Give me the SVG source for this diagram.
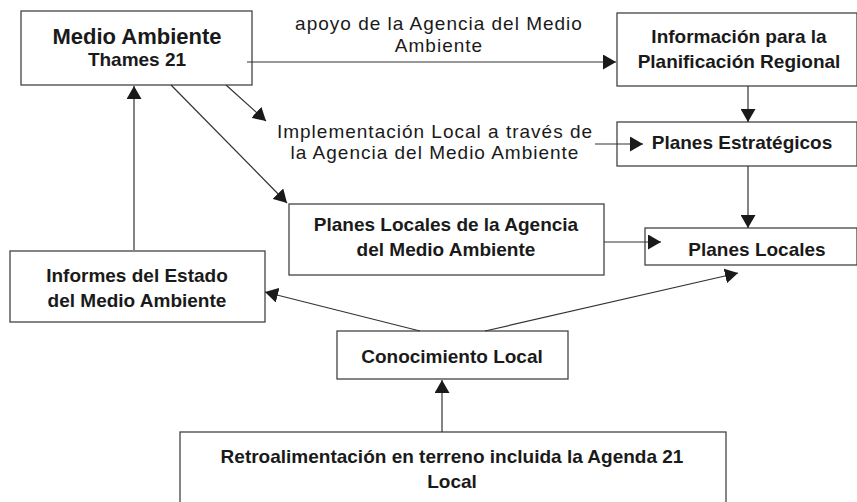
<svg xmlns="http://www.w3.org/2000/svg" width="857" height="502" viewBox="0 0 857 502">
<style>
  .box { fill: #ffffff; stroke: #444444; stroke-width: 1.3; }
  .b { font-family: "Liberation Sans", Arial, sans-serif; font-weight: bold; font-size: 19px; fill: #1a1a1a; text-anchor: middle; }
  .big { font-size: 22px; }
  .lbl { font-family: "Liberation Sans", Arial, sans-serif; font-size: 19px; fill: #1a1a1a; text-anchor: middle; letter-spacing: 1px; }
  .c { stroke: #333333; stroke-width: 1.2; fill: none; marker-end: url(#ah); }
</style>
<defs>
  <marker id="ah" markerUnits="userSpaceOnUse" markerWidth="14" markerHeight="15" refX="13" refY="7.5" orient="auto">
    <path d="M0,0 L13,7.5 L0,15 Z" fill="#1a1a1a"/>
  </marker>
</defs>
<rect width="857" height="502" fill="#ffffff"/>

<g id="label-apoyo">
  <text class="lbl" x="439" y="30">apoyo de la Agencia del Medio</text>
  <text class="lbl" x="439" y="52">Ambiente</text>
</g>
<g id="label-implementacion">
  <text class="lbl" x="435" y="138">Implementación Local a través de</text>
  <text class="lbl" x="435" y="159">la Agencia del Medio Ambiente</text>
</g>

<g id="medio-ambiente">
  <rect class="box" x="21" y="11" width="231" height="74"/>
  <text class="b big" x="137" y="44">Medio Ambiente</text>
  <text class="b" x="137" y="66">Thames 21</text>
</g>

<g id="informacion">
  <rect class="box" x="617" y="13" width="240" height="73"/>
  <text class="b" x="739" y="43">Información para la</text>
  <text class="b" x="739" y="68">Planificación Regional</text>
</g>

<g id="planes-estrategicos">
  <rect class="box" x="617" y="122" width="240" height="44"/>
  <text class="b" x="742" y="149">Planes Estratégicos</text>
</g>

<g id="planes-locales-agencia">
  <rect class="box" x="289" y="204" width="315" height="71"/>
  <text class="b" x="446" y="231">Planes Locales de la Agencia</text>
  <text class="b" x="446" y="256">del Medio Ambiente</text>
</g>

<g id="planes-locales">
  <rect class="box" x="645" y="228" width="212" height="37"/>
  <text class="b" x="757" y="256">Planes Locales</text>
</g>

<g id="informes">
  <rect class="box" x="10" y="251" width="255" height="71"/>
  <text class="b" x="137" y="282">Informes del Estado</text>
  <text class="b" x="137" y="307">del Medio Ambiente</text>
</g>

<g id="conocimiento">
  <rect class="box" x="337" y="331" width="231" height="48"/>
  <text class="b" x="452" y="363">Conocimiento Local</text>
</g>

<g id="retroalimentacion">
  <rect class="box" x="180" y="432" width="546" height="80"/>
  <text class="b" x="452" y="463">Retroalimentación en terreno incluida la Agenda 21</text>
  <text class="b" x="452" y="488">Local</text>
</g>

<g id="connectors">
  <line class="c" x1="247" y1="62" x2="616" y2="62"/>
  <line class="c" x1="748" y1="86" x2="748" y2="122"/>
  <line class="c" x1="595" y1="144" x2="643" y2="144"/>
  <line class="c" x1="748" y1="166" x2="748" y2="228"/>
  <line class="c" x1="604" y1="242" x2="661" y2="242"/>
  <line class="c" x1="226" y1="85" x2="266" y2="121"/>
  <line class="c" x1="171" y1="85" x2="287" y2="203"/>
  <line class="c" x1="134" y1="250" x2="134" y2="86"/>
  <line class="c" x1="420" y1="331" x2="265" y2="292"/>
  <line class="c" x1="485" y1="331" x2="738" y2="273"/>
  <line class="c" x1="442" y1="432" x2="442" y2="380"/>
</g>
</svg>
